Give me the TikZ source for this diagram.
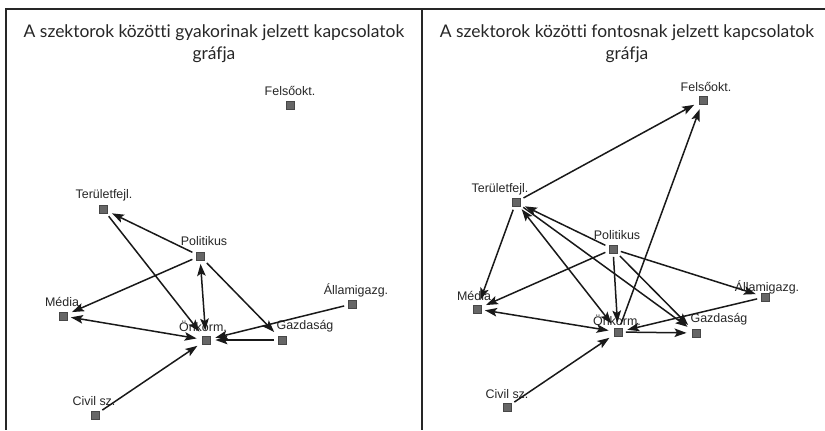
\documentclass[tikz,border=0pt]{standalone}
\usepackage{fontspec}
\setmainfont{Liberation Sans}
\newfontfamily\titlefont[Ligatures=NoCommon]{Lato}
\usetikzlibrary{arrows.meta}
\definecolor{csucs}{HTML}{666666}
\definecolor{felirat}{HTML}{262626}

\begin{document}
\begin{tikzpicture}[x=1bp,y=-1bp,>={Stealth[length=12bp,width=8.5bp,inset=2.5bp]},
	pont/.style={draw=csucs!70!black, fill=csucs, minimum size=8.5bp, inner sep=0pt},
	nev/.style={font=\fontsize{12.5}{14}\selectfont, text=felirat, inner sep=0pt},
	cim/.style={font=\titlefont\fontsize{17.5}{22}\selectfont, text=felirat, align=center},
	el/.style={line width=1.5bp, color=black!90, shorten >=5bp, shorten <=3.5bp}]
	\useasboundingbox (0,0) rectangle (825,430);
	% keret
	\draw[line width=1.3bp, color=felirat] (825,9)--(6,9)--(6,430);
	\draw[line width=1.3bp, color=felirat] (422,9)--(422,430);
	\node[cim] (bcim) at (214,44) {A szektorok közötti gyakorinak jelzett kapcsolatok\\gráfja};
	\node[cim] (jcim) at (627,44) {A szektorok közötti fontosnak jelzett kapcsolatok\\gráfja};

	% bal oldali graf
	\node[pont] (bF) at (290,105) {};
	\node[pont] (bT) at (103,209) {};
	\node[pont] (bP) at (200,256) {};
	\node[pont] (bM) at (63,316) {};
	\node[pont] (bO) at (206,340) {};
	\node[pont] (bG) at (282,340) {};
	\node[pont] (bA) at (352,304) {};
	\node[pont] (bC) at (95,415) {};
	\node[nev] (bFn) at (290,91) {Felsőokt.};
	\node[nev] (bTn) at (104,195) {Területfejl.};
	\node[nev] (bPn) at (204,241) {Politikus};
	\node[nev] (bMn) at (62,302) {Média};
	\node[nev] (bOn) at (203,326) {Önkorm.};
	\node[nev] (bGn) at (305,326) {Gazdaság};
	\node[nev] (bAn) at (356,290) {Államigazg.};
	\node[nev] (bCn) at (94,401) {Civil sz.};
	\draw[el,->] (bP)--(bT);
	\draw[el,->] (bT)--(bO);
	\draw[el,->] (bP)--(bM);
	\draw[el,<->] (bP)--(bO);
	\draw[el,->] (bP)--(bG);
	\draw[el,->] (bA)--(bO);
	\draw[el,<->] (bM)--(bO);
	\draw[el,->] (bG)--(bO);
	\draw[el,->] (bC)--(bO);

	% jobb oldali graf
	\node[pont] (jF) at (703,100) {};
	\node[pont] (jT) at (516,202) {};
	\node[pont] (jP) at (613,249) {};
	\node[pont] (jM) at (477,309) {};
	\node[pont] (jO) at (618,332) {};
	\node[pont] (jG) at (696,333) {};
	\node[pont] (jA) at (765,297) {};
	\node[pont] (jC) at (507,407) {};
	\node[nev] (jFn) at (706,87) {Felsőokt.};
	\node[nev] (jTn) at (500,189) {Területfejl.};
	\node[nev] (jPn) at (617,235) {Politikus};
	\node[nev] (jMn) at (474,296) {Média};
	\node[nev] (jOn) at (617,320) {Önkorm.};
	\node[nev] (jGn) at (719,319) {Gazdaság};
	\node[nev] (jAn) at (767,287) {Államigazg.};
	\node[nev] (jCn) at (507,394) {Civil sz.};
	\draw[el,->] (jT)--(jF);
	\draw[el,->] (jO)--(jF);
	\draw[el,->] (jT)--(jM);
	\draw[el,->] (jP)--(jT);
	\draw[el,<->] (jT)--(jO);
	\draw[el,->] (jT)--(jG);
	\draw[el,->] (jP)--(jM);
	\draw[el,->] (jP)--(jO);
	\draw[el,->] (jP)--(jG);
	\draw[el,->] (jP)--(jA);
	\draw[el,->] (jA)--(jO);
	\draw[el,<->] (jM)--(jO);
	\draw[el,->] (jO)--(jG);
	\draw[el,->] (jC)--(jO);
\end{tikzpicture}
\end{document}
